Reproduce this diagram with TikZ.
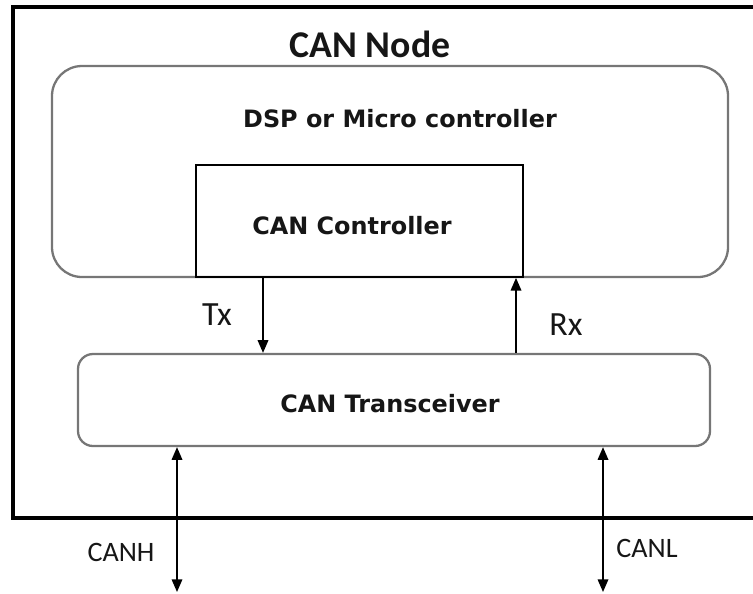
\documentclass[tikz,border=0pt]{standalone}
\usepackage{fontspec}
\setmainfont{Carlito}
\newfontfamily\labelfont{DejaVu Sans}
\usetikzlibrary{arrows.meta, fit}
\definecolor{bSoft}{RGB}{118, 118, 118}
\definecolor{tDark}{RGB}{22, 22, 22}

\begin{document}
\begin{tikzpicture}[
    x=0.02cm, y=-0.02cm,
    >={Triangle[width=6pt, length=7.2pt]},
    frame/.style={draw=black, line width=2pt, inner sep=0pt},
    softbox/.style={draw=bSoft, line width=1.3pt, rounded corners=#1, inner sep=0pt},
    hardbox/.style={draw=black, line width=1.0pt, inner sep=0pt},
    titletext/.style={font={\bfseries\fontsize{21.5pt}{24pt}\selectfont}, text=tDark, anchor=base, inner sep=0pt},
    boxtext/.style={font={\labelfont\bfseries\fontsize{13.6pt}{16pt}\selectfont}, text=tDark, anchor=base, inner sep=0pt},
    sigtext/.style={font={\fontsize{19.3pt}{22pt}\selectfont}, text=tDark, anchor=base, inner sep=0pt},
    bustext/.style={font={\fontsize{16pt}{19pt}\selectfont}, text=tDark, anchor=base, inner sep=0pt},
    sig/.style={draw=black, line width=0.9pt}
]
\useasboundingbox (0,0) rectangle (753,593);
\clip (0,0) rectangle (753,593);

% node frame (runs past the right edge)
\node[frame, fit={(13,7) (775,518)}] (canode) {};
\node[titletext] (title) at (370,57) {CAN Node};

% processor with embedded CAN controller
\node[softbox=0.6cm, fit={(52,66) (728,277)}] (dsp) {};
\node[boxtext] (dsplbl) at (400,127) {DSP or Micro controller};
\node[hardbox, fit={(196,165) (523,277)}] (ctrl) {};
\node[boxtext] (ctrllbl) at (352,234) {CAN Controller};

% transceiver
\node[softbox=0.3cm, fit={(78,354) (710,446)}] (xcvr) {};
\node[boxtext] (xcvrlbl) at (390,412) {CAN Transceiver};

% Tx / Rx lines
\coordinate (txx) at (263,0);
\coordinate (rxx) at (516,0);
\draw[sig, ->] (ctrl.south -| txx) -- (xcvr.north -| txx);
\draw[sig, ->] (xcvr.north -| rxx) -- (ctrl.south -| rxx);
\node[sigtext] (txlbl) at (217,325) {Tx};
\node[sigtext] (rxlbl) at (566,335) {Rx};

% bus lines
\coordinate (canhend) at (177,592);
\coordinate (canlend) at (603,592);
\draw[sig, <->] (xcvr.south -| canhend) -- (canhend);
\draw[sig, <->] (xcvr.south -| canlend) -- (canlend);
\node[bustext] (canhlbl) at (121,561) {CANH};
\node[bustext] (canllbl) at (647,557) {CANL};

\end{tikzpicture}
\end{document}
